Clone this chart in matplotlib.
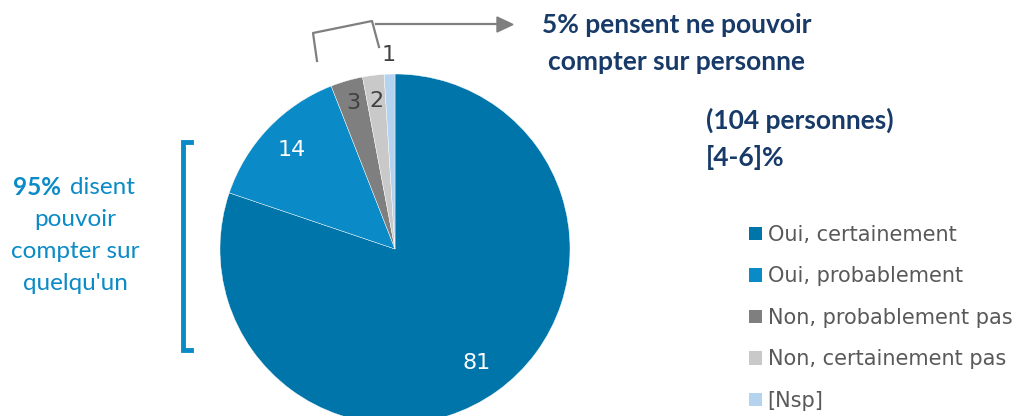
import numpy as np
import matplotlib.pyplot as plt
from matplotlib.lines import Line2D

categories = ['Oui, certainement', 'Oui, probablement', 'Non, probablement pas',
              'Non, certainement pas', '[Nsp]']
values = [81, 14, 3, 2, 1]
colors = ['#0075A9', '#0A8AC6', '#7F7F7F', '#C9C9C9', '#B4D3EE']
label_colors = ['white', 'white', '#404040', '#404040', '#404040']
label_radius = [0.80, 0.82, 0.87, 0.85, 1.11]

W, H = 1020, 416
fig = plt.figure(figsize=(W / 100, H / 100), dpi=100)

def px(x, y):
    return x / W, 1 - y / H

# pie: center (395, 249), radius 175 px
cx, cy, r = 395, 249, 175
ax = fig.add_axes([(cx - r) / W, (H - cy - r) / H, 2 * r / W, 2 * r / H])
wedges, _ = ax.pie(values, colors=colors, startangle=90, counterclock=False,
                   radius=1, wedgeprops=dict(edgecolor='white', linewidth=0.3))
ax.set_xlim(-1, 1)
ax.set_ylim(-1, 1)
ax.set_aspect('equal')
ax.axis('off')

for w, v, c, rr in zip(wedges, values, label_colors, label_radius):
    mid = np.deg2rad((w.theta1 + w.theta2) / 2)
    ax.text(rr * np.cos(mid), rr * np.sin(mid), str(v), ha='center', va='center',
            color=c, fontsize=16, family='DejaVu Sans')

# grey bracket over the small slices + arrow
gray = '#7F7F7F'
bx, by = zip(*[px(317, 61), px(313, 33), px(372, 21), px(379, 47)])
fig.add_artist(Line2D(bx, by, color=gray, lw=1.6))
fig.add_artist(Line2D(*zip(px(376, 24), px(500, 24)), color=gray, lw=1.6))
fig.patches.append(plt.Polygon([px(497, 17), px(513, 24.5), px(497, 32)], closed=True,
                               color=gray, transform=fig.transFigure, figure=fig))

navy = '#173A68'
fig.text(*px(677, 25), '5% pensent ne pouvoir', ha='center', va='center',
         color=navy, fontsize=19, fontweight='bold', family='Lato')
fig.text(*px(677, 62), 'compter sur personne', ha='center', va='center',
         color=navy, fontsize=19, fontweight='bold', family='Lato')
fig.text(*px(706, 120), '(104 personnes)', ha='left', va='center',
         color=navy, fontsize=19, fontweight='bold', family='Lato')
fig.text(*px(706, 157), '[4-6]%', ha='left', va='center',
         color=navy, fontsize=19, fontweight='bold', family='Lato')

# left side: bracket and caption
blue = '#0A8AC6'
lx, ly = zip(*[px(191, 142), px(183, 142), px(183, 350), px(191, 350)])
fig.add_artist(Line2D(lx, ly, color=blue, lw=3.5, solid_joinstyle='miter'))
fig.text(*px(13, 187), '95%', ha='left', va='center', color=blue,
         fontsize=17.5, fontweight='bold', family='Lato')
fig.text(*px(70, 187), 'disent', ha='left', va='center', color=blue,
         fontsize=17.5, family='Lato')
for y, s in [(219, 'pouvoir'), (252, 'compter sur'), (284, "quelqu'un")]:
    fig.text(*px(75, y), s, ha='center', va='center', color=blue,
             fontsize=17.5, family='Lato')

leg = fig.legend(wedges, categories, loc='upper left', bbox_to_anchor=px(749, 225),
                 frameon=False, handlelength=0.62, handleheight=0.62, handletextpad=0.28,
                 labelspacing=1.03, fontsize=15, labelcolor='#595959',
                 borderpad=0, borderaxespad=0)
for h in leg.legend_handles:
    h.set_edgecolor('none')

fig.savefig('out.png', dpi=100)
